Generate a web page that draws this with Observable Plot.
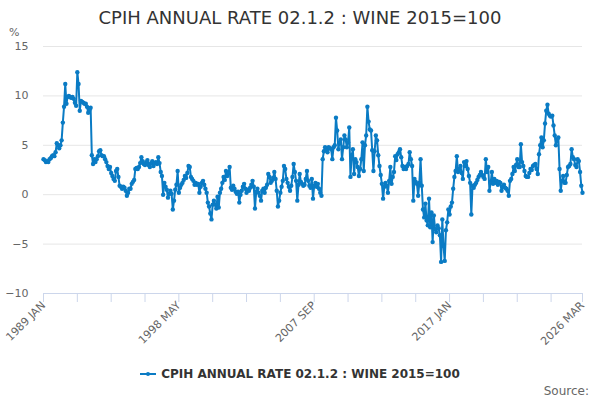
<!DOCTYPE html>
<html>
<head>
<meta charset="utf-8">
<script src="https://cdn.jsdelivr.net/npm/d3@7"></script>
<script src="https://cdn.jsdelivr.net/npm/@observablehq/plot@0.6"></script>
<style>
  html, body { margin: 0; padding: 0; background: #fff; }
  #wrap { position: relative; width: 600px; height: 400px; overflow: hidden; font-family: "DejaVu Sans", sans-serif; }
  #title { position: absolute; top: 7px; left: 0; width: 600px; text-align: center; font-size: 18px; line-height: 22px; color: #333; }
  #unit { position: absolute; top: 26px; left: 9px; font-size: 11px; line-height: 14px; color: #666; }
  #chart { position: absolute; top: 30px; left: 0; width: 600px; height: 320px; }
  #legend { position: absolute; top: 366px; left: 0; width: 600px; text-align: center; font-size: 12px; line-height: 16px; font-weight: bold; color: #333; }
  #legend svg { vertical-align: top; margin-right: 5px; }
  #source { position: absolute; top: 383px; right: 11px; font-size: 12px; line-height: 16px; color: #666; }
</style>
</head>
<body>
<div id="wrap">
  <div id="title"></div>
  <div id="unit">%</div>
  <div id="chart"></div>
  <div id="legend"></div>
  <div id="source">Source:</div>
</div>
<script>
const seriesName = "CPIH ANNUAL RATE 02.1.2 : WINE 2015=100";
const startYear = 1989;
const monthNames = ["JAN","FEB","MAR","APR","MAY","JUN","JUL","AUG","SEP","OCT","NOV","DEC"];
// monthly values, Jan 1989 .. Mar 2026 (one row per year)
const values = [
  3.6, 3.5, 3.3, 3.4, 3.3, 3.6, 3.7, 3.9, 4.0, 3.9, 4.3, 5.2,
  5.0, 4.7, 5.0, 5.5, 7.3, 8.9, 11.2, 9.2, 9.9, 10.0, 9.9, 9.8,
  9.9, 9.7, 9.3, 9.0, 12.4, 11.2, 8.5, 9.5, 9.4, 9.3, 9.2, 9.2,
  8.9, 8.3, 8.6, 8.8, 4.0, 3.1, 3.6, 3.3, 3.6, 3.9, 4.4, 4.5,
  4.0, 3.9, 3.9, 3.6, 3.3, 2.9, 2.6, 2.8, 2.2, 1.9, 1.6, 1.4,
  2.4, 2.6, 1.8, 0.9, 0.8, 0.6, 0.8, 0.7, 0.4, -0.1, 0.2, 0.6,
  0.6, 1.1, 1.3, 1.5, 2.6, 2.7, 2.6, 2.8, 3.2, 3.8, 3.4, 3.1,
  3.0, 3.3, 3.5, 3.0, 2.8, 3.2, 3.4, 2.9, 3.2, 3.3, 3.1, 3.8,
  3.2, 2.3, 1.9, 0.0, 1.2, 0.8, 0.5, -0.3, 0.1, 0.4, 0.1, -1.5,
  -0.6, 0.5, 1.0, 2.4, 0.2, 0.7, 1.0, 1.2, 1.5, 1.9, 1.7, 2.2,
  2.9, 2.8, 1.8, 1.6, 1.4, 1.0, 1.2, 1.0, 1.1, 0.2, 0.8, 1.2,
  1.4, 1.0, 0.6, 0.2, -0.8, -1.2, -1.9, -2.5, -1.0, -0.6, -1.0, -1.4,
  -0.2, -1.3, 0.2, 0.6, 1.2, 1.8, 1.5, 2.4, 1.9, 2.2, 2.8, 0.7,
  0.5, 0.9, 0.6, 0.3, 0.1, 0.3, -0.8, 0.0, 0.4, 0.8, 1.1, 0.6,
  0.2, 0.5, 0.4, 0.7, 1.0, 1.4, 0.8, -1.4, 0.3, 0.6, 0.2, -0.1,
  -0.6, 0.4, 0.6, 0.2, 0.7, 1.0, 2.1, 1.8, 1.2, 1.4, 1.7, 2.3,
  1.6, 0.4, -1.2, -0.6, 0.2, 0.8, 1.4, 2.9, 2.6, 1.6, 1.2, 0.8,
  0.4, 0.9, 1.8, 3.1, 2.3, 1.4, -0.6, 1.0, 2.1, 1.3, 1.1, 0.9,
  1.0, 1.6, 2.4, 1.4, 0.9, 0.7, 1.6, -0.4, 0.9, 1.2, 0.8, 1.1,
  0.6, 0.2, -0.1, 3.6, 4.4, 4.8, 4.5, 4.3, 4.8, 4.7, 4.6, 3.6,
  4.8, 5.0, 7.8, 6.5, 4.6, 5.3, 5.6, 3.6, 4.8, 6.0, 5.6, 4.8,
  5.3, 6.8, 1.8, 4.0, 4.6, 2.1, 3.6, 3.3, 2.8, 1.9, 2.6, 3.6,
  5.3, 2.4, 5.0, 6.0, 8.9, 7.4, 6.6, 6.5, 4.5, 2.4, 4.4, 6.0,
  5.5, 4.0, 2.9, 2.0, 1.1, -0.4, 0.8, 1.2, 0.9, 0.2, 1.4, 2.8,
  1.1, 1.8, 2.3, 3.9, 3.5, 4.1, 4.3, 4.6, 3.8, 2.9, 2.6, 2.8,
  2.6, 2.9, 3.1, 4.3, 3.6, 2.9, -0.6, 1.6, 1.3, 1.1, -0.1, 1.2,
  3.6, 0.9, -1.5, -2.3, -0.9, -2.6, -3.1, -0.4, -3.3, -1.8, -4.8, -2.1,
  -3.5, -3.8, -3.1, -3.4, -4.1, -6.8, -2.5, -5.2, -6.7, -3.6, -2.8, -1.5,
  -2.0, -1.2, -0.8, 0.6, 1.8, 2.4, 3.9, 2.3, 2.6, 2.9, 2.2, 1.6,
  3.3, 2.9, 3.4, 2.6, 1.9, 1.2, -2.0, 0.9, 0.7, 1.0, 1.2, 1.5,
  1.8, 2.0, 2.3, 2.0, 1.8, 1.6, 3.6, 2.3, 2.8, 0.4, 1.2, 2.3,
  1.1, 1.6, 1.2, 1.4, 1.0, 1.3, 1.2, 0.4, 0.8, 1.0, 0.7, 0.6,
  0.4, -0.1, 1.4, 1.6, 2.1, 2.8, 2.4, 3.0, 3.6, 2.8, 2.8, 5.1,
  3.3, 2.9, 2.4, 1.9, 1.8, 1.8, 2.2, 2.6, 2.5, 2.9, 3.0, 3.1,
  2.6, 2.1, 4.1, 5.0, 5.8, 4.8, 5.5, 7.2, 8.5, 9.1, 8.2, 8.0,
  7.9, 8.0, 7.0, 6.0, 5.0, 5.6, 5.8, 2.6, 0.4, 1.4, 1.9, 1.2,
  1.2, 2.0, 2.8, 2.9, 3.1, 4.6, 3.8, 3.6, 3.0, 2.8, 3.6, 3.4,
  2.3, 0.9, 0.2
];
const xTickLabels = ["1989 JAN", "1998 MAY", "2007 SEP", "2017 JAN", "2026 MAR"];
const yTicks = [-10, -5, 0, 5, 10, 15];
const tickEveryMonths = 28;

const lineColor = "#0a7bc4";

function labelToIndex(s) {
  const [y, m] = s.split(" ");
  return (+y - startYear) * 12 + monthNames.indexOf(m);
}
function indexToLabel(i) {
  return `${startYear + Math.floor(i / 12)} ${monthNames[i % 12]}`;
}

const data = values.map((v, i) => ({i, label: indexToLabel(i), v}));
const lastIndex = values.length - 1;
const labelIdx = xTickLabels.map(labelToIndex);
const tickIdx = d3.range(0, lastIndex, tickEveryMonths).concat([lastIndex]);

document.getElementById("title").textContent = seriesName;

const chart = Plot.plot({
  width: 600,
  height: 320,
  marginTop: 16,
  marginBottom: 57,
  marginLeft: 43,
  marginRight: 18,
  style: {fontFamily: "DejaVu Sans, sans-serif", fontSize: "11px", color: "#666", background: "transparent", overflow: "visible"},
  x: {domain: [0, lastIndex], label: null},
  y: {domain: [-10, 15], label: null},
  marks: [
    Plot.gridY(yTicks, {stroke: "#e6e6e6", strokeOpacity: 1}),
    Plot.axisY({ticks: yTicks, tickSize: 0, tickPadding: 15, label: null, fill: "#666"}),
    Plot.ruleY([-10], {stroke: "#ccd6eb", strokeWidth: 1}),
    Plot.axisX({ticks: tickIdx, tickSize: 9, tickFormat: () => "", label: null, stroke: "#ccd6eb", strokeOpacity: 1}),
    Plot.axisX({ticks: labelIdx, tickSize: 0, tickPadding: 10, tickRotate: -45, tickFormat: i => indexToLabel(i), label: null, fill: "#666"}),
    Plot.line(data, {x: "i", y: "v", stroke: lineColor, strokeWidth: 2}),
    Plot.dot(data, {x: "i", y: "v", r: 2.2, fill: lineColor, stroke: null})
  ]
});
document.getElementById("chart").appendChild(chart);

const legend = document.getElementById("legend");
legend.innerHTML = `<svg width="16" height="16"><line x1="0" x2="16" y1="8" y2="8" stroke="${lineColor}" stroke-width="2"/><circle cx="8" cy="8" r="2" fill="${lineColor}"/></svg>`;
const span = document.createElement("span");
span.textContent = seriesName;
legend.appendChild(span);
</script>
</body>
</html>
